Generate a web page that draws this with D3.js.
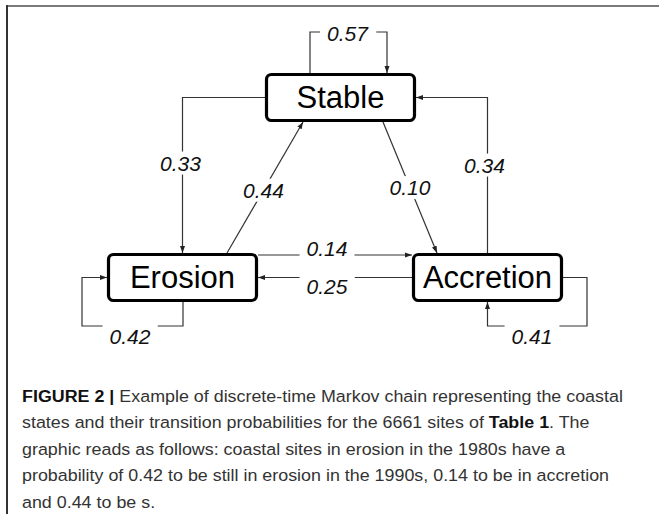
<!DOCTYPE html>
<html>
  <head>
    <meta charset="UTF-8" />
    <style>
      body {
        margin: 0;
        background: white;
      }
      .prob {
        font-family: "Liberation Sans", Arial, sans-serif;
        font-style: italic;
        font-size: 21px;
        fill: #111;
      }
      .state {
        font-family: "Liberation Sans", Arial, sans-serif;
        font-size: 31px;
        fill: #000;
      }
      .caption {
        font-family: "Liberation Sans", Arial, sans-serif;
        font-size: 17px;
        fill: #333;
      }
    </style>
  </head>
  <body>
    <svg></svg>
    <script src="https://d3js.org/d3.v7.min.js"></script>
    <script>
      let width = 659,
        height = 514;
      let svg = d3
        .select("svg")
        .attr("width", width)
        .attr("height", height)
        .attr("viewBox", "0 0 " + width + " " + height);

      // states and transition probabilities (1980s -> 1990s)
      const states = ["Stable", "Erosion", "Accretion"];
      const fromState = ["Stable", "Stable", "Stable", "Erosion", "Erosion", "Erosion", "Accretion", "Accretion", "Accretion"];
      const toState = ["Stable", "Erosion", "Accretion", "Stable", "Erosion", "Accretion", "Stable", "Erosion", "Accretion"];
      const probability = [0.57, 0.33, 0.10, 0.44, 0.42, 0.14, 0.34, 0.25, 0.41];

      const captionLines = [
        [["FIGURE 2 |", true], [" Example of discrete-time Markov chain representing the coastal", false]],
        [["states and their transition probabilities for the 6661 sites of ", false], ["Table 1", true], [". The", false]],
        [["graphic reads as follows: coastal sites in erosion in the 1980s have a", false]],
        [["probability of 0.42 to be still in erosion in the 1990s, 0.14 to be in accretion", false]],
        [["and 0.44 to be s.", false]],
      ];

      // layout of the boxes
      let boxW = 151,
        boxH = 49;
      let nodeX = d3.scaleOrdinal().domain(states).range([340.5, 182.5, 487.5]);
      let nodeY = d3.scaleOrdinal().domain(states).range([97.5, 277.5, 277.5]);

      function box(s) {
        let cx = nodeX(s),
          cy = nodeY(s);
        return { cx: cx, cy: cy, x0: cx - boxW / 2, x1: cx + boxW / 2, y0: cy - boxH / 2, y1: cy + boxH / 2 };
      }

      let edges = probability.map((p, i) => ({ from: fromState[i], to: toState[i], p: p }));

      // route every transition around the boxes
      function route(e) {
        let S = box("Stable"),
          E = box("Erosion"),
          A = box("Accretion");
        let key = e.from + ">" + e.to;
        let pts, lab;
        if (key == "Stable>Stable") {
          pts = [[S.x0 + 45, S.y0], [S.x0 + 45, S.y0 - 41], [S.x0 + 122, S.y0 - 41], [S.x0 + 122, S.y0]];
          lab = [S.cx + 7, S.y0 - 40];
        } else if (key == "Stable>Erosion") {
          pts = [[S.x0, S.cy], [E.cx, S.cy], [E.cx, E.y0]];
          lab = [E.cx - 2, 163];
        } else if (key == "Accretion>Stable") {
          pts = [[A.cx, A.y0], [A.cx, S.cy], [S.x1, S.cy]];
          lab = [A.cx - 3, 165];
        } else if (key == "Erosion>Stable") {
          pts = [[E.x0 + 120, E.y0], [S.x0 + 38, S.y1]];
          let t = 0.48;
          lab = [pts[0][0] + t * (pts[1][0] - pts[0][0]), pts[0][1] + t * (pts[1][1] - pts[0][1])];
        } else if (key == "Stable>Accretion") {
          pts = [[S.x0 + 118, S.y1], [A.x0 + 25, A.y0]];
          let t = 0.5;
          lab = [pts[0][0] + t * (pts[1][0] - pts[0][0]), pts[0][1] + t * (pts[1][1] - pts[0][1])];
        } else if (key == "Erosion>Accretion") {
          pts = [[E.x1, E.y0 + 2], [A.x0, E.y0 + 2]];
          lab = [(E.x1 + A.x0) / 2 - 8, E.y0 - 5];
        } else if (key == "Accretion>Erosion") {
          pts = [[A.x0, A.cy], [E.x1, A.cy]];
          lab = [(E.x1 + A.x0) / 2 - 8, A.cy + 9];
        } else if (key == "Erosion>Erosion") {
          pts = [[E.x0 + 76, E.y1], [E.x0 + 76, E.y1 + 24], [E.x0 - 25, E.y1 + 24], [E.x0 - 25, E.cy], [E.x0, E.cy]];
          lab = [E.x0 + 23, E.y1 + 34];
        } else {
          pts = [[A.x1, A.cy], [A.x1 + 24, A.cy], [A.x1 + 24, A.y1 + 24], [A.cx, A.y1 + 24], [A.cx, A.y1]];
          lab = [A.x1 - 31, A.y1 + 34];
        }
        return { pts: pts, lab: lab };
      }
      edges.forEach((e) => Object.assign(e, route(e)));

      // frame
      svg.append("line").attr("x1", 7).attr("x2", width).attr("y1", 6).attr("y2", 6).attr("stroke", "#7a7a7a").attr("stroke-width", 2);
      svg.append("line").attr("x1", 7).attr("x2", 7).attr("y1", 5).attr("y2", height).attr("stroke", "#333").attr("stroke-width", 2);

      svg
        .append("defs")
        .append("marker")
        .attr("id", "arrow")
        .attr("viewBox", "0 -3 7 6")
        .attr("refX", 7)
        .attr("refY", 0)
        .attr("markerWidth", 7)
        .attr("markerHeight", 6)
        .attr("markerUnits", "userSpaceOnUse")
        .attr("orient", "auto")
        .append("path")
        .attr("fill", "#222")
        .attr("d", "M0,-2.5L7,0L0,2.5Z");

      let line = d3.line();

      svg
        .append("g")
        .attr("id", "links")
        .selectAll("path")
        .data(edges)
        .join("path")
        .attr("d", (d) => line(d.pts))
        .attr("fill", "none")
        .attr("stroke", "#333")
        .attr("stroke-width", 1.2)
        .attr("marker-end", "url(#arrow)");

      // labels with white gap in the line
      let labels = svg
        .append("g")
        .attr("id", "labels")
        .selectAll("g")
        .data(edges)
        .join("g")
        .attr("transform", (d) => "translate(" + d.lab[0] + "," + d.lab[1] + ")");
      let labelRect = labels.append("rect").attr("fill", "white");
      let labelText = labels
        .append("text")
        .attr("class", "prob")
        .attr("text-anchor", "middle")
        .attr("dy", "0.36em")
        .text((d) => d3.format(".2f")(d.p));
      labelText.each(function () {
        let bb = this.getBBox();
        d3.select(this.parentNode)
          .select("rect")
          .attr("x", bb.x - 7)
          .attr("y", bb.y)
          .attr("width", bb.width + 14)
          .attr("height", bb.height);
      });

      // boxes
      let nodes = svg
        .append("g")
        .attr("id", "nodes")
        .selectAll("g")
        .data(states)
        .join("g");
      nodes
        .append("rect")
        .attr("x", (d) => box(d).x0 + 1.5)
        .attr("y", (d) => box(d).y0 + 1.5)
        .attr("width", boxW - 3)
        .attr("height", boxH - 3)
        .attr("rx", 5)
        .attr("fill", "white")
        .attr("stroke", "#000")
        .attr("stroke-width", 3.2);
      nodes
        .append("text")
        .attr("class", "state")
        .attr("x", (d) => box(d).cx)
        .attr("y", (d) => box(d).cy)
        .attr("dy", "0.35em")
        .attr("text-anchor", "middle")
        .text((d) => d);

      // caption
      let cap = svg.append("g").attr("class", "caption");
      let capLines = cap
        .selectAll("text")
        .data(captionLines)
        .join("text")
        .attr("x", 0)
        .attr("y", (d, i) => 402 + i * 26.5);
      capLines
        .selectAll("tspan")
        .data((d) => d)
        .join("tspan")
        .attr("font-weight", (d) => (d[1] ? "bold" : null))
        .attr("fill", (d) => (d[1] ? "#111" : null))
        .text((d) => d[0]);
      let w0 = capLines.node().getComputedTextLength();
      let sx = (623 - 22) / w0;
      cap.attr("transform", "translate(22,0) scale(" + sx + ",1)");
    </script>
  </body>
</html>
